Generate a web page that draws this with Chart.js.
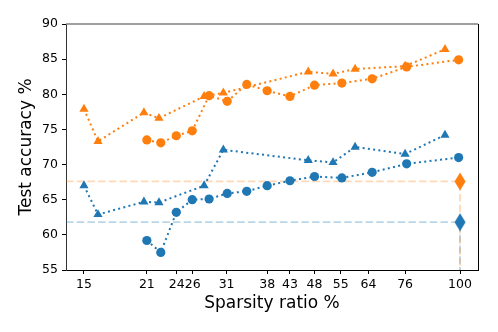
<!DOCTYPE html>
<html>
<head>
<meta charset="utf-8">
<script src="https://cdn.jsdelivr.net/npm/chart.js@4.4.1/dist/chart.umd.min.js"></script>
<style>
  html, body { margin: 0; padding: 0; background: #fff; }
  #wrap { width: 498px; height: 332px; }
</style>
</head>
<body>
<div id="wrap"><canvas id="acc-chart"></canvas></div>
<script>
// sparsity (%) of the triangle runs and the circle runs
var triX = [15, 16.1, 20.3, 21.9, 27.5, 30.3, 46.5, 52.7, 58.9, 75.8, 92.7];
var circX = [20.6, 22.1, 23.9, 25.9, 28.2, 30.9, 34.1, 37.8, 42.4, 48.0, 55.1, 64.2, 76.4, 99.3];

var orangeTriY = [77.9, 73.3, 77.4, 76.6, 79.7, 80.2, 83.2, 82.9, 83.6, 84.0, 86.4];
var blueTriY = [67.0, 62.9, 64.7, 64.6, 67.0, 72.1, 70.6, 70.3, 72.5, 71.5, 74.2];
var orangeCircY = [73.5, 73.1, 74.1, 74.8, 79.8, 79.0, 81.4, 80.5, 79.7, 81.3, 81.6, 82.2, 83.9, 84.9];
var blueCircY = [59.2, 57.5, 63.2, 65.0, 65.1, 65.9, 66.2, 67.0, 67.7, 68.3, 68.1, 68.9, 70.1, 71.0];

// dense model (100%)
var denseX = 100;
var denseOrange = 67.6;
var denseBlue = 61.8;

var tickValues = [15, 20.6, 23.95, 25.97, 30.8, 37.8, 42.4, 48.0, 54.8, 63.0, 75.8, 100];
var tickLabels = ['15', '21', '24', '26', '31', '38', '43', '48', '55', '64', '76', '100'];

var xMin = 13.7, xMax = 109.5, yMin = 55, yMax = 90;

var ORANGE = '#ff7f0e', BLUE = '#1f77b4';

function pts(xs, ys) {
  return xs.map(function(x, i) { return {x: x, y: ys[i]}; });
}

function thinDiamond(color) {
  var c = document.createElement('canvas');
  c.width = 12; c.height = 19;
  var ctx = c.getContext('2d');
  ctx.fillStyle = color;
  ctx.beginPath();
  ctx.moveTo(6, 0.5);
  ctx.lineTo(11.5, 9.5);
  ctx.lineTo(6, 18.5);
  ctx.lineTo(0.5, 9.5);
  ctx.closePath();
  ctx.fill();
  return c;
}

function series(xs, ys, color, style, r) {
  return {
    data: pts(xs, ys),
    borderColor: color,
    backgroundColor: color,
    borderWidth: 2,
    borderDash: [2, 3.3],
    pointStyle: style,
    pointRadius: r,
    pointBorderWidth: 0,
    order: 0
  };
}

function baseline(y, color) {
  return {
    data: [{x: xMin, y: y}, {x: denseX, y: y}, {x: denseX, y: yMin}],
    borderColor: color,
    borderWidth: 1.8,
    borderDash: [7.5, 3.2],
    pointRadius: 0,
    order: 5
  };
}

var framePlugin = {
  id: 'frame',
  afterDraw: function(chart) {
    var a = chart.chartArea, ctx = chart.ctx;
    ctx.save();
    ctx.lineWidth = 1.5;
    ctx.strokeStyle = '#808080';
    ctx.beginPath();
    ctx.moveTo(a.left, a.top);
    ctx.lineTo(a.right, a.top);
    ctx.stroke();
    ctx.lineWidth = 1;
    ctx.strokeStyle = '#000';
    ctx.beginPath();
    ctx.moveTo(a.right + 0.5, a.top);
    ctx.lineTo(a.right + 0.5, a.bottom);
    ctx.stroke();
    ctx.restore();
  }
};

window.onload = function() {
  var canvas = document.getElementById('acc-chart');
  new Chart(canvas, {
    type: 'line',
    data: {
      datasets: [
        series(triX, orangeTriY, ORANGE, 'triangle', 5.3),
        series(circX, orangeCircY, ORANGE, 'circle', 4.6),
        series(triX, blueTriY, BLUE, 'triangle', 5.3),
        series(circX, blueCircY, BLUE, 'circle', 4.6),
        {data: [{x: denseX, y: denseOrange}], pointStyle: thinDiamond(ORANGE), showLine: false, order: 0},
        {data: [{x: denseX, y: denseBlue}], pointStyle: thinDiamond(BLUE), showLine: false, order: 0},
        baseline(denseOrange, 'rgba(255,127,14,0.3)'),
        baseline(denseBlue, 'rgba(31,119,180,0.3)')
      ]
    },
    plugins: [framePlugin],
    options: {
      responsive: true,
      maintainAspectRatio: false,
      animation: false,
      layout: {padding: {top: 24, right: 20, left: 0, bottom: 0}},
      plugins: {legend: {display: false}, tooltip: {enabled: false}},
      scales: {
        x: {
          type: 'logarithmic',
          min: xMin,
          max: xMax,
          afterBuildTicks: function(scale) {
            scale.ticks = tickValues.map(function(v) { return {value: v}; });
          },
          afterFit: function(scale) { scale.height = 62; },
          ticks: {
            autoSkip: false,
            maxRotation: 0,
            padding: 3,
            color: '#000',
            font: {family: 'DejaVu Sans', size: 12.5},
            callback: function(v, i) { return tickLabels[i]; }
          },
          grid: {drawOnChartArea: false, drawTicks: true, tickLength: 4, tickColor: '#000'},
          border: {display: true, color: '#000', width: 1},
          title: {
            display: true,
            text: 'Sparsity ratio %',
            color: '#000',
            font: {family: 'DejaVu Sans', size: 17},
            padding: {top: 0, bottom: 18.5}
          }
        },
        y: {
          min: yMin,
          max: yMax,
          afterFit: function(scale) { scale.width = 66; },
          ticks: {
            stepSize: 5,
            padding: 4,
            color: '#000',
            font: {family: 'DejaVu Sans', size: 12.5}
          },
          grid: {drawOnChartArea: false, drawTicks: true, tickLength: 4, tickColor: '#000'},
          border: {display: true, color: '#333', width: 1},
          title: {
            display: true,
            text: 'Test accuracy %',
            color: '#000',
            font: {family: 'DejaVu Sans', size: 17},
            padding: {top: 16, bottom: 0}
          }
        }
      }
    }
  });
};
</script>
</body>
</html>
